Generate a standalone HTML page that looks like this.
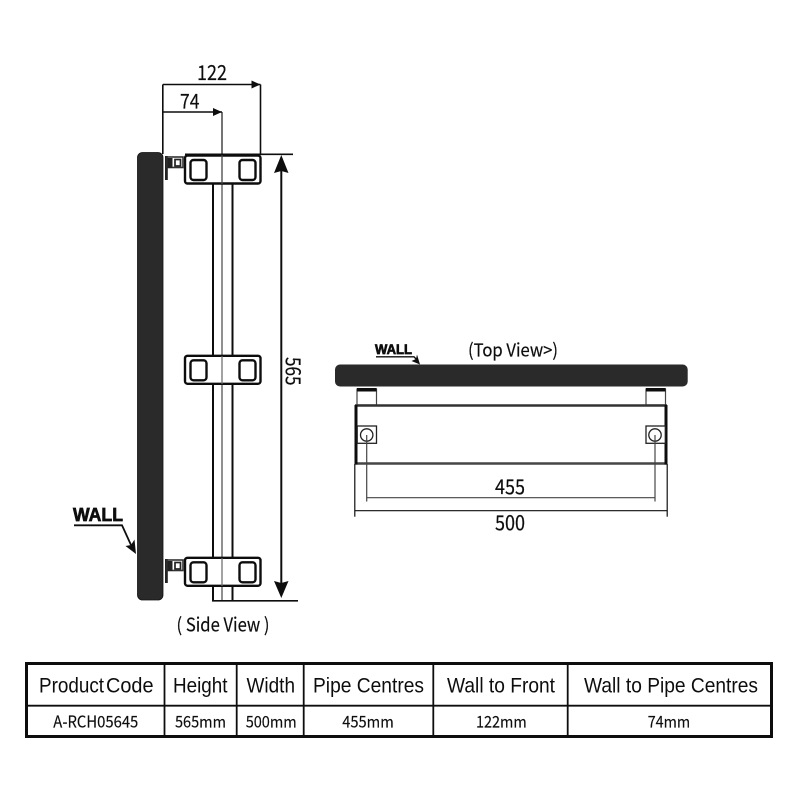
<!DOCTYPE html>
<html>
<head>
<meta charset="utf-8">
<style>
html,body{margin:0;padding:0;background:#fff;width:800px;height:800px;overflow:hidden}
svg{display:block}
.n{font-family:"Noto Sans CJK SC","Liberation Sans",sans-serif;font-size:20px;fill:#111;stroke:#111;stroke-width:.2}
.h{font-family:"Liberation Sans",sans-serif;font-size:21px;fill:#111}
.d{font-family:"Noto Sans CJK SC","Liberation Sans",sans-serif;font-size:16px;fill:#111;stroke:#111;stroke-width:.15}
.w{font-family:"Liberation Sans",sans-serif;font-weight:bold;fill:#111;stroke:#111;stroke-width:.7}
</style>
</head>
<body>
<svg width="800" height="800" viewBox="0 0 800 800" xmlns="http://www.w3.org/2000/svg">
<defs>
<filter id="soft" x="0" y="0" width="100%" height="100%"><feGaussianBlur stdDeviation="0.35"/></filter>
<g id="br">
<rect x="185" y="0" width="75.5" height="28" rx="2.5" fill="#fff" stroke="#111" stroke-width="2.4"/>
<rect x="190.5" y="4.5" width="16" height="20" rx="3" fill="#fff" stroke="#111" stroke-width="2.4"/>
<rect x="239.5" y="4.5" width="16" height="20" rx="3" fill="#fff" stroke="#111" stroke-width="2.4"/>
</g>
<g id="cl">
<rect x="165" y="0" width="2.8" height="24" fill="#222"/>
<rect x="167" y="1" width="16" height="10.5" fill="#fff" stroke="#333" stroke-width="1.6"/>
<rect x="167.5" y="2" width="5" height="10" fill="#222"/>
<rect x="175" y="3.5" width="5.5" height="6.5" fill="#fff" stroke="#222" stroke-width="1.7"/>
</g>
</defs>
<g filter="url(#soft)">
<rect width="800" height="800" fill="#fff"/>

<!-- Side view -->
<rect x="137.5" y="152.5" width="25.5" height="447.5" rx="5" fill="#2a2a2a" stroke="#111" stroke-width=".8"/>
<line x1="213" y1="183" x2="213" y2="601" stroke="#111" stroke-width="2"/>
<line x1="232.5" y1="183" x2="232.5" y2="601" stroke="#111" stroke-width="2"/>
<line x1="222" y1="112" x2="222" y2="601" stroke="#555" stroke-width="1.3"/>
<use href="#br" y="155.5"/>
<use href="#br" y="355.8"/>
<use href="#br" y="557.8"/>
<line x1="222" y1="112" x2="222" y2="184" stroke="#444" stroke-width="1.3"/>
<line x1="222" y1="356" x2="222" y2="384" stroke="#666" stroke-width="1.2"/>
<line x1="222" y1="558" x2="222" y2="586" stroke="#666" stroke-width="1.2"/>
<use href="#cl" y="156"/>
<use href="#cl" y="559"/>

<!-- Side dims -->
<g stroke="#111" stroke-width="1.6" fill="none">
<line x1="162.8" y1="84.5" x2="162.8" y2="154"/>
<line x1="162.8" y1="84.5" x2="260.5" y2="84.5"/>
<line x1="260.5" y1="84.5" x2="260.5" y2="155"/>
<line x1="162.8" y1="112" x2="222" y2="112"/>
<line x1="185" y1="154.3" x2="293" y2="154.3"/>
<line x1="212" y1="600.8" x2="298" y2="600.8"/>
<line x1="281.3" y1="165" x2="281.3" y2="590" stroke-width="2"/>
</g>
<polygon points="251.5,80.5 260.5,84.5 251.5,88.5" fill="#111"/>
<polygon points="213,108 222,112 213,116" fill="#111"/>
<polygon points="281.3,155 288.5,173 281.3,171 274,173" fill="#111"/>
<polygon points="281.3,598 288.5,581 281.3,583 274,581" fill="#111"/>

<text class="n" x="197" y="80" textLength="30" lengthAdjust="spacingAndGlyphs">122</text>
<text class="n" x="180" y="108.3" textLength="19.5" lengthAdjust="spacingAndGlyphs">74</text>
<text class="n" transform="translate(286,357) rotate(90)" textLength="28.5" lengthAdjust="spacingAndGlyphs">565</text>
<text class="n" x="176.5" y="631.5" textLength="93" lengthAdjust="spacingAndGlyphs" style="font-size:19px">( Side View )</text>

<!-- WALL side -->
<text class="w" x="73" y="521" font-size="18" textLength="50" lengthAdjust="spacingAndGlyphs">WALL</text>
<polyline points="74,525.3 122,525.3 131,545" fill="none" stroke="#111" stroke-width="1.8"/>
<polygon points="136,554 125.5,546 131,545 134.5,539.5" fill="#111"/>

<!-- Top view -->
<rect x="335" y="364.5" width="352.7" height="22" rx="5" fill="#2a2a2a"/>
<g fill="#fff" stroke="#444" stroke-width="1.2">
<rect x="357" y="389" width="19.5" height="16"/>
<rect x="646" y="389" width="19.5" height="16"/>
</g>
<rect x="357" y="388" width="19.5" height="3.5" fill="#111"/>
<rect x="646" y="388" width="19.5" height="3.5" fill="#111"/>
<line x1="355" y1="405.5" x2="667" y2="405.5" stroke="#333" stroke-width="2.4"/>
<line x1="355" y1="463.5" x2="667" y2="463.5" stroke="#444" stroke-width="2.4"/>
<rect x="354.5" y="405" width="3" height="59.5" fill="#111"/>
<rect x="664.5" y="405" width="3" height="59.5" fill="#111"/>
<g fill="#fff" stroke="#222" stroke-width="1.3">
<rect x="357.2" y="426" width="19.3" height="17.3"/>
<rect x="646" y="426" width="19.3" height="17.3"/>
<circle cx="366.7" cy="435" r="6.2"/>
<circle cx="655" cy="435" r="6.2"/>
</g>
<g fill="none" stroke="#444" stroke-width="1.2">
<line x1="366.7" y1="435" x2="366.7" y2="501.5"/>
<line x1="655" y1="435" x2="655" y2="501.5"/>
<line x1="366.7" y1="497.7" x2="655" y2="497.7"/>
<line x1="354.8" y1="464" x2="354.8" y2="516.7" stroke="#111"/>
<line x1="667.2" y1="464" x2="667.2" y2="516.7" stroke="#111"/>
<line x1="354.8" y1="510.7" x2="667.2" y2="510.7" stroke="#111"/>
</g>
<text class="n" x="495" y="494" textLength="30" lengthAdjust="spacingAndGlyphs">455</text>
<text class="n" x="495" y="530" textLength="30" lengthAdjust="spacingAndGlyphs">500</text>
<text class="n" x="468" y="356.5" textLength="90" lengthAdjust="spacingAndGlyphs" style="font-size:18px">(Top View&gt;)</text>

<text class="w" x="375" y="354" font-size="13.5" textLength="37" lengthAdjust="spacingAndGlyphs">WALL</text>
<polyline points="376,356.8 414,356.8 417,360" fill="none" stroke="#111" stroke-width="1.4"/>
<polygon points="420,364.5 411.5,361 416,359 417,354.5" fill="#111"/>

<!-- Table -->
<rect x="26.5" y="663.5" width="745" height="73" fill="#fff" stroke="#111" stroke-width="3"/>
<g stroke="#111" stroke-width="1.8">
<line x1="26" y1="705.7" x2="772" y2="705.7"/>
<line x1="164.5" y1="663" x2="164.5" y2="737"/>
<line x1="236.7" y1="663" x2="236.7" y2="737"/>
<line x1="303.7" y1="663" x2="303.7" y2="737"/>
<line x1="433.3" y1="663" x2="433.3" y2="737"/>
<line x1="567.7" y1="663" x2="567.7" y2="737"/>
</g>
<text class="h" x="39" y="692.3" textLength="65" lengthAdjust="spacingAndGlyphs">Product</text>
<text class="h" x="106" y="692.3" textLength="47.5" lengthAdjust="spacingAndGlyphs">Code</text>
<text class="h" x="173" y="692.3" textLength="54.5" lengthAdjust="spacingAndGlyphs">Height</text>
<text class="h" x="246.5" y="692.3" textLength="48.5" lengthAdjust="spacingAndGlyphs">Width</text>
<text class="h" x="313" y="692.3" textLength="111" lengthAdjust="spacingAndGlyphs">Pipe Centres</text>
<text class="h" x="447" y="692.3" textLength="108" lengthAdjust="spacingAndGlyphs">Wall to Front</text>
<text class="h" x="584" y="692.3" textLength="174" lengthAdjust="spacingAndGlyphs">Wall to Pipe Centres</text>
<text class="d" x="53.3" y="727.3" textLength="85" lengthAdjust="spacingAndGlyphs">A-RCH05645</text>
<text class="d" x="175" y="727.3" textLength="51" lengthAdjust="spacingAndGlyphs">565mm</text>
<text class="d" x="245.7" y="727.3" textLength="51" lengthAdjust="spacingAndGlyphs">500mm</text>
<text class="d" x="342.3" y="727.3" textLength="51.5" lengthAdjust="spacingAndGlyphs">455mm</text>
<text class="d" x="476" y="727.3" textLength="50.7" lengthAdjust="spacingAndGlyphs">122mm</text>
<text class="d" x="647.7" y="727.3" textLength="42.5" lengthAdjust="spacingAndGlyphs">74mm</text>
</g>
</svg>
</body>
</html>
